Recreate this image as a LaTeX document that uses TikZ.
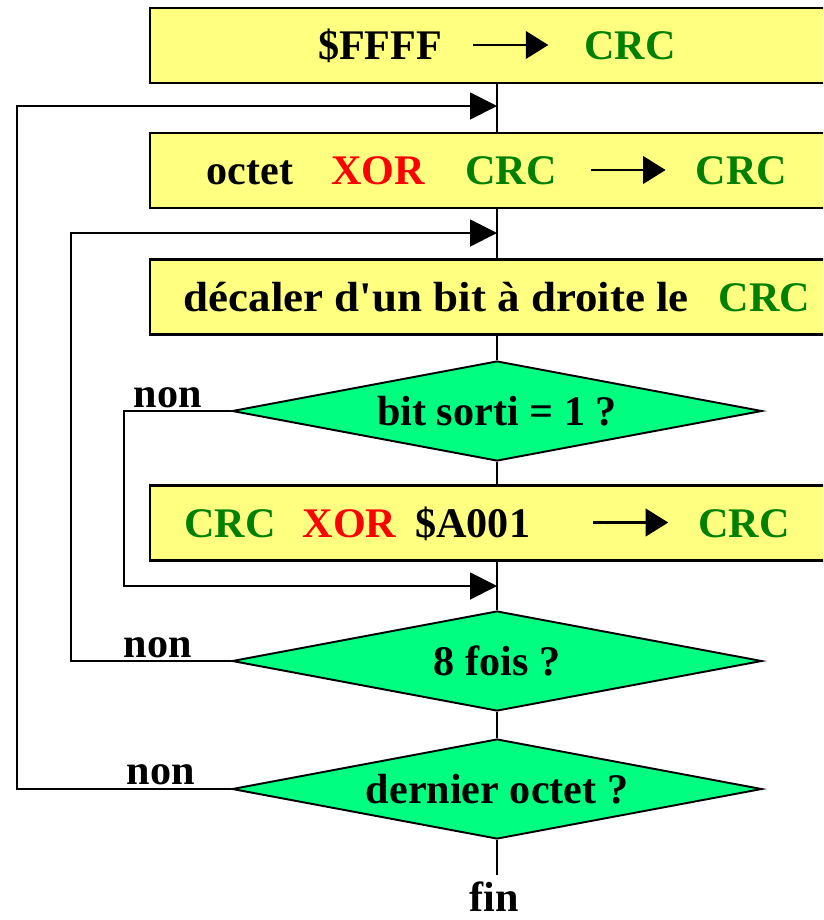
\documentclass[tikz,border=0pt]{standalone}
\usepackage{fontspec}
\setmainfont{Liberation Serif}[Ligatures=TeXOff]
\usetikzlibrary{shapes.geometric,arrows.meta}
\definecolor{jaune}{RGB}{255,255,128}
\definecolor{vertclair}{RGB}{0,255,128}
\definecolor{vertcrc}{RGB}{0,128,0}
\definecolor{rouge}{RGB}{255,0,0}
\newcommand{\crc}{\textcolor{vertcrc}{CRC}}
\newcommand{\xor}{\textcolor{rouge}{XOR}}
\newcommand{\fleche}{\tikz[baseline=0pt]\draw[line width=1.3pt,-{Triangle[length=0.45cm,width=0.55cm]}](0,0.29cm)--(1.5cm,0.29cm);}

\begin{document}
\begin{tikzpicture}[x=0.02cm, y=-0.02cm, line width=1.1pt,
  >={Triangle[length=0.54cm,width=0.54cm]},
  every node/.style={font=\fontsize{24}{28}\selectfont\bfseries},
  boite/.style={draw, line width=1.3pt, fill=jaune, minimum width=13.88cm, minimum height=1.5cm,
    inner sep=0pt, text height=0.56cm, text depth=0pt},
  test/.style={draw, fill=vertclair, shape=diamond, shape aspect=5.3, minimum width=10.6cm,
    minimum height=2cm, inner sep=0pt, text height=0.56cm, text depth=0pt},
  etiq/.style={anchor=base west, inner sep=0pt}]
\clip (0,0) rectangle (823,920);
% les cases
\node[boite] (ffff) at (497,45.5) {\$FFFF\hspace{0.6cm}\fleche\hspace{0.7cm}\crc};
\node[boite] (octet) at (497,170.5) {octet\hspace{0.76cm}\xor\hspace{0.8cm}\crc\hspace{0.66cm}\fleche\hspace{0.58cm}\crc};
\node[boite] (decal) at (497,297) {\scalebox{1.066}[1]{décaler d'un bit à droite le}\hspace{0.6cm}\crc};
\node[test] (bit) at (497,411) {bit sorti = 1 ?};
\node[boite] (xora) at (497,523) {\crc\hspace{0.54cm}\xor\hspace{0.38cm}\$A001\hspace{1.24cm}\fleche\hspace{0.58cm}\crc\kern0.4cm};
\node[test] (huit) at (497,661) {8 fois ?};
\node[test] (dernier) at (497,789) {dernier octet ?};
\node (fin) at (494,911)[anchor=base, inner ysep=3pt] {fin};
% les retours
\coordinate (retour1) at (497,106);
\coordinate (retour2) at (497,233);
\coordinate (retour3) at (497,586);
\draw (ffff)--(octet);
\draw (octet)--(decal);
\draw (decal)--(bit);
\draw (bit)--(xora);
\draw (xora)--(huit);
\draw (huit)--(dernier);
\draw (dernier)--(dernier.south |- fin.north);
\draw[->] (dernier.west)--++(-214,0) |- (retour1);
\draw[->] (huit.west)--++(-160,0) |- (retour2);
\draw[->] (bit.west)--++(-107,0) |- (retour3);
\node[etiq] (non1) at (133,407) {non};
\node[etiq] (non2) at (123,657) {non};
\node[etiq] (non3) at (126,784) {non};
\end{tikzpicture}
\end{document}
